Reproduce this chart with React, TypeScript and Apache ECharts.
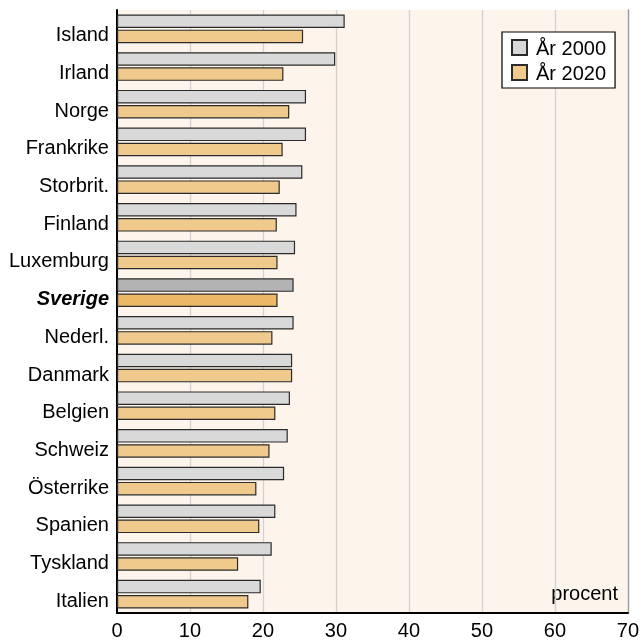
import React, { useEffect, useRef } from "react";
import * as echarts from "echarts";

const countries = [
  "Island", "Irland", "Norge", "Frankrike", "Storbrit.", "Finland", "Luxemburg", "Sverige",
  "Nederl.", "Danmark", "Belgien", "Schweiz", "Österrike", "Spanien", "Tyskland", "Italien",
];
const values2000 = [31.2, 29.9, 25.9, 25.9, 25.4, 24.6, 24.4, 24.2, 24.2, 24.0, 23.7, 23.4, 22.9, 21.7, 21.2, 19.7];
const values2020 = [25.5, 22.8, 23.6, 22.7, 22.3, 21.9, 22.0, 22.0, 21.3, 24.0, 21.7, 20.9, 19.1, 19.5, 16.6, 18.0];
const seriesNames = ["År 2000", "År 2020"];
const xTicks = { min: 0, max: 70, interval: 10 };
const highlight = "Sverige";

const FONT = "'Liberation Sans', Arial, Helvetica, sans-serif";

export default function App() {
  const ref = useRef<HTMLDivElement>(null);
  useEffect(() => {
    if (!ref.current) return;
    const chart = echarts.init(ref.current, null, { renderer: "svg" });
    const mk = (vals: number[], hl: string) =>
      vals.map((v, i) =>
        countries[i] === highlight ? { value: v, itemStyle: { color: hl } } : v
      );
    chart.setOption({
      animation: false,
      textStyle: { fontFamily: FONT },
      grid: { left: 117, right: 13, top: 10, bottom: 27, show: true, backgroundColor: "#fdf4eb", borderWidth: 0 },
      legend: {
        data: seriesNames,
        orient: "vertical",
        left: 502,
        top: 32,
        padding: [5.5, 9, 5.5, 9],
        itemGap: 5,
        itemWidth: 15,
        itemHeight: 15,
        icon: "rect",
        backgroundColor: "#ffffff",
        borderColor: "#000",
        borderWidth: 1.2,
        textStyle: { fontSize: 20, color: "#000", fontFamily: FONT, padding: [0, 0, 0, 4], lineHeight: 20 },
      },
      xAxis: {
        type: "value",
        min: xTicks.min,
        max: xTicks.max,
        interval: xTicks.interval,
        axisLine: { show: true, lineStyle: { color: "#000", width: 2 } },
        axisTick: { show: false },
        axisLabel: { fontSize: 20, color: "#000", margin: 7, fontFamily: FONT },
        splitLine: { show: true, lineStyle: { color: "#d2d2d2", width: 1.3 } },
      },
      yAxis: [
        {
          type: "category",
          data: countries,
          inverse: true,
          axisLine: { show: true, lineStyle: { color: "#000", width: 2 } },
          axisTick: { show: false },
          axisLabel: {
            fontSize: 20,
            color: "#000",
            margin: 8,
            padding: [11, 0, 0, 0],
            fontFamily: FONT,
            formatter: (v: string) => (v === highlight ? `{b|${v}}` : v),
            rich: { b: { fontSize: 20, fontWeight: "bold", fontStyle: "italic", color: "#000", fontFamily: FONT } },
          },
        },
        {
          type: "category",
          data: countries,
          inverse: true,
          position: "right",
          axisLine: { show: true, lineStyle: { color: "#9a9a9a", width: 1.3 } },
          axisTick: { show: false },
          axisLabel: { show: false },
        },
      ],
      series: [
        {
          name: seriesNames[0],
          type: "bar",
          data: mk(values2000, "#b3b3b3"),
          barWidth: 13.5,
          barGap: "12%",
          itemStyle: { color: "#d9d9d9", borderColor: "#2b2b2b", borderWidth: 1.2 },
        },
        {
          name: seriesNames[1],
          type: "bar",
          data: mk(values2020, "#ebb865"),
          barWidth: 13.5,
          barGap: "12%",
          itemStyle: { color: "#f0ca8c", borderColor: "#2b2b2b", borderWidth: 1.2 },
        },
      ],
      graphic: [
        {
          type: "text",
          x: 618,
          y: 593,
          style: { text: "procent", fontSize: 20, fill: "#000", fontFamily: FONT, align: "right", verticalAlign: "middle" },
        },
      ],
    });
    return () => chart.dispose();
  }, []);
  return <div ref={ref} style={{ position: "fixed", left: 0, top: 0, width: 642, height: 640 }} />;
}
